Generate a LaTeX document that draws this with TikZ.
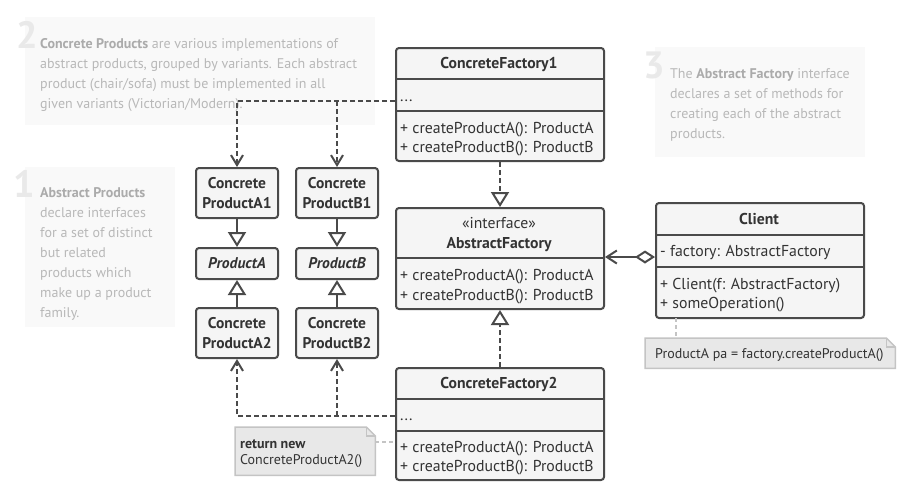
\documentclass[tikz,border=0pt]{standalone}
\usepackage{fontspec}
\setmainfont{PT Sans}
\usetikzlibrary{arrows.meta}
\definecolor{ink}{HTML}{4A4A4A}
\definecolor{boxfill}{HTML}{F5F5F5}
\definecolor{notebg}{HTML}{F9F9F9}
\definecolor{notetext}{HTML}{B8B8B8}
\definecolor{notebold}{HTML}{ABABAB}
\definecolor{numcol}{HTML}{E9E9E9}
\definecolor{cmtfill}{HTML}{E8E8E8}
\definecolor{cmtline}{HTML}{C4C4C4}
\definecolor{txt}{HTML}{333333}
\begin{document}
\begin{tikzpicture}[x=1pt,y=-1pt,
  classbox/.style={draw=ink, fill=boxfill, line width=2pt, rounded corners=3pt, anchor=north west, inner sep=0pt},
  prodbox/.style={classbox, minimum width=82pt, align=center, text=txt, font=\fontsize{15.5}{20}\selectfont\bfseries},
  sepline/.style={draw=ink, line width=2pt},
  ttl/.style={font=\fontsize{15.7}{16}\selectfont\bfseries, text=txt, inner sep=0pt, anchor=base},
  stereo/.style={font=\fontsize{15.7}{16}\selectfont, text=txt, inner sep=0pt, anchor=base},
  mth/.style={font=\fontsize{15.8}{16}\selectfont, text=txt, inner sep=0pt, anchor=base west},
  conn/.style={draw=ink, line width=2pt},
  dep/.style={conn, dash pattern=on 5pt off 3pt, -{Straight Barb[length=10pt,width=12pt]}},
  inh/.style={conn, -{Triangle[length=15pt,width=18pt,fill=white]}},
  notebox/.style={fill=notebg, draw=none, anchor=north west, inner sep=0pt},
  notetxt/.style={font=\fontsize{14}{20}\selectfont, text=notetext, align=left, inner sep=0pt, anchor=base west},
  bignum/.style={font=\fontsize{38}{38}\selectfont\bfseries, text=numcol, inner sep=0pt, anchor=base east},
  cmtbox/.style={draw=none, anchor=north west, inner sep=0pt},
  cmtshape/.style={fill=cmtfill, draw=cmtline, line width=1.5pt},
  cmttxt/.style={font=\fontsize{14}{16}\selectfont, text=txt, inner sep=0pt, align=left},
  cmtlink/.style={draw=cmtline, line width=1.5pt, dash pattern=on 4pt off 3pt}
]
\fill[white] (0,0) rectangle (918,499);
\useasboundingbox (0,0) rectangle (918,499);

% ---------- explanatory notes (text nodes anchored at the baseline of their last line) ----------
\node[notebox, minimum width=350pt, minimum height=108pt] (n2) at (25,17) {};
\node[bignum] (n2num) at (38,48) {2};
\node[notetxt] (n2txt) at (40,108) {\textcolor{notebold}{\bfseries Concrete Products} are various implementations of\\abstract products, grouped by variants. Each abstract\\product (chair/sofa) must be implemented in all\\given variants (Victorian/Modern).};

\node[notebox, minimum width=150pt, minimum height=160pt] (n1) at (25,167) {};
\node[bignum] (n1num) at (35,197) {1};
\node[notetxt] (n1txt) at (40,317) {\textcolor{notebold}{\bfseries Abstract Products}\\declare interfaces\\for a set of distinct\\but related\\products which\\make up a product\\family.};

\node[notebox, minimum width=210pt, minimum height=110pt] (n3) at (655,47) {};
\node[bignum] (n3num) at (665,78) {3};
\node[notetxt] (n3txt) at (670,138) {The \textcolor{notebold}{\bfseries Abstract Factory} interface\\declares a set of methods for\\creating each of the abstract\\products.};

% ---------- ConcreteFactory1 ----------
\node[classbox, minimum width=208pt, minimum height=113pt] (cf1) at (395,47) {};
\draw[sepline] (395,79) -- (603,79);
\draw[sepline] (395,111) -- (603,111);
\node[ttl] (cf1t) at (499,68) {ConcreteFactory1};
\node[mth] (cf1d) at (400,101) {...};
\node[mth] (cf1m1) at (400,133) {+ createProductA(): ProductA};
\node[mth] (cf1m2) at (400,152) {+ createProductB(): ProductB};

% ---------- AbstractFactory ----------
\node[classbox, minimum width=208pt, minimum height=101pt] (af) at (395,207) {};
\draw[sepline] (395,258) -- (603,258);
\node[stereo] (afs) at (499,228) {«interface»};
\node[ttl] (aft) at (499,248) {AbstractFactory};
\node[mth] (afm1) at (400,280) {+ createProductA(): ProductA};
\node[mth] (afm2) at (400,300) {+ createProductB(): ProductB};

% ---------- ConcreteFactory2 ----------
\node[classbox, minimum width=208pt, minimum height=112pt] (cf2) at (395,367) {};
\draw[sepline] (395,399) -- (603,399);
\node[ttl] (cf2t) at (499,388) {ConcreteFactory2};
\draw[sepline] (395,431) -- (603,431);
\node[mth] (cf2d) at (400,420) {...};
\node[mth] (cf2m1) at (400,452) {+ createProductA(): ProductA};
\node[mth] (cf2m2) at (400,471) {+ createProductB(): ProductB};

% ---------- Client ----------
\node[classbox, minimum width=208pt, minimum height=115pt] (client) at (655,202) {};
\draw[sepline] (655,235) -- (863,235);
\draw[sepline] (655,267) -- (863,267);
\node[ttl] (clt) at (759,224) {Client};
\node[mth] (clf) at (660,256) {- factory: AbstractFactory};
\node[mth] (clm1) at (660,289) {+ Client(f: AbstractFactory)};
\node[mth] (clm2) at (660,308) {+ someOperation()};

% ---------- products ----------
\node[prodbox, minimum height=50pt] (ca1) at (195,167) {Concrete\\ProductA1};
\node[prodbox, minimum height=50pt] (cb1) at (295,167) {Concrete\\ProductB1};
\node[prodbox, minimum height=31pt, font=\fontsize{15.5}{20}\selectfont\bfseries\itshape] (pa) at (195,247) {ProductA};
\node[prodbox, minimum height=31pt, font=\fontsize{15.5}{20}\selectfont\bfseries\itshape] (pb) at (295,247) {ProductB};
\node[prodbox, minimum height=50pt] (ca2) at (195,307) {Concrete\\ProductA2};
\node[prodbox, minimum height=50pt] (cb2) at (295,307) {Concrete\\ProductB2};

% ---------- comments ----------
\node[cmtbox, minimum width=250pt, minimum height=30pt] (cmtc) at (645,338) {};
\draw[cmtshape] (cmtc.north west) -- ([xshift=-9pt]cmtc.north east) -- ([yshift=-9pt]cmtc.north east) -- (cmtc.south east) -- (cmtc.south west) -- cycle;
\draw[draw=cmtline, line width=1.5pt] ([xshift=-9pt]cmtc.north east) -- ([xshift=-9pt,yshift=-9pt]cmtc.north east) -- ([yshift=-9pt]cmtc.north east);
\node[cmttxt, anchor=base west] (cmtct) at (655,358) {ProductA pa = factory.createProductA()};

\node[cmtbox, minimum width=140pt, minimum height=48pt] (cmtf) at (235,427) {};
\draw[cmtshape] (cmtf.north west) -- ([xshift=-9pt]cmtf.north east) -- ([yshift=-9pt]cmtf.north east) -- (cmtf.south east) -- (cmtf.south west) -- cycle;
\draw[draw=cmtline, line width=1.5pt] ([xshift=-9pt]cmtf.north east) -- ([xshift=-9pt,yshift=-9pt]cmtf.north east) -- ([yshift=-9pt]cmtf.north east);
\node[cmttxt, anchor=base west] (cmtft1) at (240,448) {\bfseries return new};
\node[cmttxt, anchor=base west] (cmtft2) at (240,464) {ConcreteProductA2()};

% ---------- connectors ----------
\draw[inh, dash pattern=on 5pt off 3pt] (cf1.south) -- (af.north);
\draw[inh, dash pattern=on 5pt off 3pt] (cf2.north) -- (af.south);
\draw[inh] (ca1.south) -- (pa.north);
\draw[inh] (cb1.south) -- (pb.north);
\draw[inh] (ca2.north) -- (pa.south);
\draw[inh] (cb2.north) -- (pb.south);

\coordinate (d1) at (395,101);
\draw[dep] (d1) -| (ca1.north);
\draw[dep] (d1 -| cb1.north) -- (cb1.north);
\coordinate (d2) at (395,416);
\draw[dep] (d2) -| (ca2.south);
\draw[dep] (d2 -| cb2.south) -- (cb2.south);

\coordinate (agg) at (655,257);
\draw[conn, {Diamond[length=20pt,width=13pt,fill=white]}-{Straight Barb[length=10pt,width=13pt]}] (agg) -- (agg -| af.east);

\coordinate (cl1) at (676,318);
\draw[cmtlink] (cl1) -- (cl1 |- cmtc.north);
\coordinate (cl2) at (375,442);
\draw[cmtlink] (cl2) -- (cl2 -| cf2.west);
\end{tikzpicture}
\end{document}
